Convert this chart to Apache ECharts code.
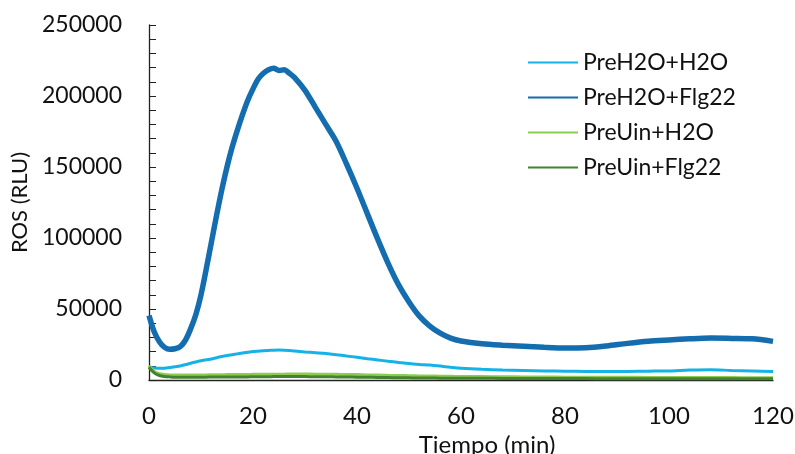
<!DOCTYPE html>
<html>
<head>
<meta charset="utf-8">
<script src="https://cdn.jsdelivr.net/npm/echarts@6/dist/echarts.min.js"></script>
<style>html,body{margin:0;padding:0;background:#fff}#c{width:795px;height:454px}</style>
</head>
<body>
<div id="c"></div>
<script>
const seriesNames = ['PreH2O+H2O', 'PreH2O+Flg22', 'PreUin+H2O', 'PreUin+Flg22'];
const time = [0,1,2,3,4,5,6,7,8,9,10,11,12,13,14,15,16,17,18,19,20,21,22,23,24,25,26,27,28,
  30,32,34,36,38,40,42,44,46,48,50,52,54,56,58,60,
  64,68,72,76,80,84,88,92,96,100,104,108,112,116,120];
const preH2O_H2O = [9000,8500,8200,8300,8800,9300,9900,10800,11800,12700,13500,14200,14800,15700,16500,17200,17800,18400,19000,19500,20000,20300,20600,20800,21000,21100,21000,20800,20500,
  19800,19200,18600,17800,16900,16000,15000,14100,13200,12400,11600,11000,10500,9800,9000,8300,
  7500,7000,6700,6400,6200,6000,5900,6000,6200,6400,7000,7300,6700,6300,5900];
const preH2O_Flg22 = [45500,34000,27000,23000,21600,22000,23500,28000,36000,46000,60000,78000,97000,116000,134000,150000,164000,176000,187000,197000,205000,212000,216000,218500,219500,218000,218500,216000,213000,
  204000,192000,180000,168000,152000,135000,117000,99000,82000,67000,55000,45000,38000,33000,29500,27500,
  25500,24500,23800,23000,22500,22700,24000,25800,27300,28200,29000,29500,29300,29000,27200];
const preUin_H2O = [10000,6000,4500,3900,3600,3500,3500,3500,3500,3600,3600,3600,3700,3700,3700,3800,3800,3800,3900,3900,4000,4000,4000,4100,4100,4100,4100,4200,4200,
  4200,4100,4100,4000,3900,3800,3600,3500,3300,3200,3000,2900,2800,2700,2600,2500,
  2400,2300,2200,2100,2000,2000,1900,1900,1800,1800,1800,1700,1700,1600,1600];
const preUin_Flg22 = [9000,5000,3200,2500,2200,2000,2000,2000,2000,2000,2000,2000,2100,2100,2100,2100,2200,2200,2200,2200,2300,2300,2300,2300,2400,2400,2400,2400,2400,
  2400,2300,2300,2200,2100,2000,1900,1800,1700,1600,1500,1400,1400,1300,1300,1200,
  1200,1100,1100,1000,1000,1000,900,900,900,900,800,800,800,800,800];
const xTicks = [0, 20, 40, 60, 80, 100, 120];
const yTicks = [0, 50000, 100000, 150000, 200000, 250000];

const colors = ['#14B2E6', '#136DAE', '#8ECB52', '#43822F'];
const widths = [3, 5.5, 3, 3];
const allValues = [preH2O_H2O, preH2O_Flg22, preUin_H2O, preUin_Flg22];
const font = 'Lato, "Open Sans", sans-serif';

const chart = echarts.init(document.getElementById('c'));
chart.setOption({
  animation: false,
  backgroundColor: '#fff',
  grid: { left: 149, right: 22, top: 25, bottom: 74, outerBoundsMode: 'none', containLabel: false },
  legend: {
    orient: 'vertical', left: 522, top: 46, itemWidth: 50, itemHeight: 14, itemGap: 12,
    textStyle: { fontFamily: font, fontSize: 23, color: '#111' },
    itemStyle: { opacity: 0 },
    data: seriesNames
  },
  xAxis: {
    type: 'value', min: xTicks[0], max: xTicks[xTicks.length - 1], interval: 20,
    name: 'Tiempo (min)', nameLocation: 'middle', nameGap: 50,
    nameTextStyle: { fontFamily: font, fontSize: 24, color: '#111', padding: [0, 0, 0, 52] },
    axisLine: { lineStyle: { color: '#222', width: 1.3 } },
    axisTick: { show: false },
    splitLine: { show: false },
    axisLabel: { fontFamily: font, fontSize: 24, color: '#111', margin: 24 }
  },
  yAxis: {
    type: 'value', min: yTicks[0], max: yTicks[yTicks.length - 1], interval: 50000,
    name: 'ROS (RLU)', nameLocation: 'middle', nameGap: 116,
    nameTextStyle: { fontFamily: font, fontSize: 22, color: '#111' },
    axisLine: { show: true, lineStyle: { color: '#222', width: 1.3 } },
    axisTick: { show: true, inside: true, length: 7, lineStyle: { color: '#222' } },
    minorTick: { show: true, splitNumber: 5, length: 7, lineStyle: { color: '#222' } },
    splitLine: { show: false },
    axisLabel: { fontFamily: font, fontSize: 23, color: '#111', margin: 27, formatter: v => String(v) }
  },
  series: seriesNames.map((n, i) => ({
    name: n, type: 'line', symbol: 'none', smooth: 0.3,
    data: time.map((t, k) => [t, allValues[i][k]]),
    lineStyle: { color: colors[i], width: widths[i] },
    itemStyle: { color: colors[i] },
    z: i === 1 ? 3 : 2
  }))
});
</script>
</body>
</html>
